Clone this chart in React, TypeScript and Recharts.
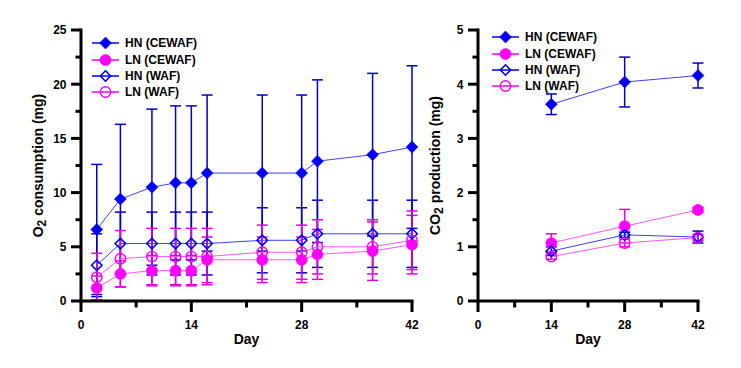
import { LineChart, Line, XAxis, YAxis, ErrorBar, Legend, Label } from 'recharts';

const FONT = '"Liberation Sans", Arial, sans-serif';
const BLUE = '#0000ff';
const MAGENTA = '#ff00ff';

// O2 consumption (left panel)
const o2Days = [2, 5, 9, 12, 14, 16, 23, 28, 30, 37, 42];
const o2HnCewaf = [6.6, 9.4, 10.5, 10.9, 10.9, 11.8, 11.8, 11.8, 12.9, 13.5, 14.2];
const o2HnCewafSd = [6.0, 6.9, 7.2, 7.1, 7.1, 7.2, 7.2, 7.2, 7.5, 7.5, 7.5];
const o2LnCewaf = [1.2, 2.5, 2.8, 2.8, 2.8, 3.8, 3.8, 3.8, 4.3, 4.6, 5.2];
const o2LnCewafSd = [1.1, 1.2, 1.4, 1.4, 1.4, 2.1, 2.1, 2.1, 2.3, 2.7, 2.7];
const o2HnWaf = [3.3, 5.3, 5.3, 5.3, 5.3, 5.3, 5.6, 5.6, 6.2, 6.2, 6.2];
const o2HnWafSd = [2.9, 2.9, 2.9, 2.9, 2.9, 2.9, 3.0, 3.0, 3.1, 3.1, 3.1];
const o2LnWaf = [2.2, 3.9, 4.1, 4.1, 4.1, 4.1, 4.5, 4.5, 5.0, 5.0, 5.6];
const o2LnWafSd = [2.2, 2.6, 2.6, 2.6, 2.6, 2.6, 2.5, 2.5, 2.5, 2.5, 2.7];

// CO2 production (right panel)
const co2Days = [14, 28, 42];
const co2HnCewaf = [3.63, 4.04, 4.16];
const co2HnCewafSd = [0.19, 0.46, 0.23];
const co2LnCewaf = [1.07, 1.38, 1.68];
const co2LnCewafSd = [0.17, 0.31, 0.05];
const co2HnWaf = [0.92, 1.22, 1.18];
const co2HnWafSd = [0.08, 0.05, 0.11];
const co2LnWaf = [0.82, 1.07, 1.17];
const co2LnWafSd = [0.05, 0.07, 0.06];

const dayTicks = [0, 7, 14, 21, 28, 35, 42];
const o2Ticks = [0, 2.5, 5, 7.5, 10, 12.5, 15, 17.5, 20, 22.5, 25];
const co2Ticks = [0, 0.5, 1, 1.5, 2, 2.5, 3, 3.5, 4, 4.5, 5];

const seriesNames = ['HN (CEWAF)', 'LN (CEWAF)', 'HN (WAF)', 'LN (WAF)'];
const seriesKeys = ['hnCewaf', 'lnCewaf', 'hnWaf', 'lnWaf'];
const seriesLook: Record<string, { color: string; line: string; bar: string; shape: string; filled: boolean }> = {
  hnCewaf: { color: BLUE, line: '#4040ff', bar: '#0000c0', shape: 'diamond', filled: true },
  lnCewaf: { color: MAGENTA, line: '#ff55ff', bar: '#e000e0', shape: 'circle', filled: true },
  hnWaf: { color: BLUE, line: '#4040ff', bar: '#0000c0', shape: 'diamond', filled: false },
  lnWaf: { color: MAGENTA, line: '#ff55ff', bar: '#e000e0', shape: 'circle', filled: false },
};

const o2Data = o2Days.map((day, i) => ({
  day,
  hnCewaf: o2HnCewaf[i], hnCewafSd: o2HnCewafSd[i],
  lnCewaf: o2LnCewaf[i], lnCewafSd: o2LnCewafSd[i],
  hnWaf: o2HnWaf[i], hnWafSd: o2HnWafSd[i],
  lnWaf: o2LnWaf[i], lnWafSd: o2LnWafSd[i],
}));

const co2Data = co2Days.map((day, i) => ({
  day,
  hnCewaf: co2HnCewaf[i], hnCewafSd: co2HnCewafSd[i],
  lnCewaf: co2LnCewaf[i], lnCewafSd: co2LnCewafSd[i],
  hnWaf: co2HnWaf[i], hnWafSd: co2HnWafSd[i],
  lnWaf: co2LnWaf[i], lnWafSd: co2LnWafSd[i],
}));

function Marker({ cx, cy, shape, filled, color }: any) {
  if (cx == null || cy == null) return null;
  if (shape === 'diamond') {
    const r = filled ? 6 : 5.2;
    return (
      <path
        d={`M${cx},${cy - r}L${cx + r},${cy}L${cx},${cy + r}L${cx - r},${cy}Z`}
        fill={filled ? color : 'none'}
        stroke={color}
        strokeWidth={filled ? 0.5 : 1.6}
      />
    );
  }
  return (
    <circle cx={cx} cy={cy} r={filled ? 5.6 : 5.2} fill={filled ? color : 'none'} stroke={color} strokeWidth={filled ? 0.5 : 1.4} />
  );
}

const makeDot = (key: string) => (p: any) => {
  const s = seriesLook[key];
  return <Marker key={`${key}-${p.index}`} cx={p.cx} cy={p.cy} shape={s.shape} filled={s.filled} color={s.color} />;
};

function XTick({ x, y, payload }: any) {
  const v = payload.value;
  const major = v % 14 === 0;
  return (
    <g>
      <line x1={x} x2={x} y1={y} y2={y + (major ? 11 : 6.5)} stroke="#000" strokeWidth={3} />
      {major && (
        <text x={x} y={y + 28} textAnchor="middle" fontFamily={FONT} fontWeight="bold" fontSize={12} fill="#000">
          {v}
        </text>
      )}
    </g>
  );
}

const makeYTick = (step: number) => ({ x, y, payload }: any) => {
  const v = payload.value;
  const major = Math.abs(v / step - Math.round(v / step)) < 1e-6;
  return (
    <g>
      <line x1={x} x2={x - (major ? 10 : 5.5)} y1={y} y2={y} stroke="#000" strokeWidth={3} />
      {major && (
        <text x={x - 14.5} y={y + 4.3} textAnchor="end" fontFamily={FONT} fontWeight="bold" fontSize={12} fill="#000">
          {v}
        </text>
      )}
    </g>
  );
};

const makeYTitle = (head: string, tail: string, fallbackX: number) => (props: any) => {
  const vb = props.viewBox || {};
  const bx = vb.width != null ? vb.x + vb.width - 38 : fallbackX;
  const cy = vb.height != null ? vb.y + vb.height / 2 : 165;
  return (
    <text
      x={bx}
      y={cy}
      transform={`rotate(-90, ${bx}, ${cy})`}
      textAnchor="middle"
      fontFamily={FONT}
      fontWeight="bold"
      fontSize={14}
      fill="#000"
    >
      {head}
      <tspan dy={3} fontSize={12}>2</tspan>
      <tspan dy={-3}>{tail}</tspan>
    </text>
  );
};

const dayTitle = (props: any) => {
  const vb = props.viewBox || {};
  const cx = vb.width != null ? vb.x + vb.width / 2 : 246;
  const y = vb.y != null ? vb.y + 43 : 344;
  return (
    <text x={cx} y={y} textAnchor="middle" fontFamily={FONT} fontWeight="bold" fontSize={14} fill="#000">
      Day
    </text>
  );
};

function LegendBox() {
  return (
    <div style={{ fontFamily: FONT, fontWeight: 'bold', fontSize: 12, color: '#000' }}>
      {seriesKeys.map((k, i) => {
        const s = seriesLook[k];
        return (
          <div key={k} style={{ display: 'flex', alignItems: 'center', height: 16.4 }}>
            <svg width={27} height={16} style={{ overflow: 'visible' }}>
              <line x1={0} x2={27} y1={8} y2={8} stroke={s.color} strokeWidth={1.5} />
              <Marker cx={13.5} cy={8} shape={s.shape} filled={s.filled} color={s.color} />
            </svg>
            <span style={{ marginLeft: 6, whiteSpace: 'nowrap' }}>{seriesNames[i]}</span>
          </div>
        );
      })}
    </div>
  );
}

const axisLineStyle = { stroke: '#000', strokeWidth: 3, strokeLinecap: 'square' as const };

function Panel({ data, yTicks, yMax, yStep, width, left, yAxisWidth, marginRight, legendPos, title }: any) {
  return (
    <div style={{ position: 'absolute', left, top: 0 }}>
      <LineChart width={width} height={368} data={data} margin={{ top: 30, right: marginRight, bottom: 0, left: 0 }}>
        <XAxis
          type="number"
          dataKey="day"
          domain={[0, 42]}
          ticks={dayTicks}
          interval={0}
          tickSize={0}
          tickMargin={0}
          tickLine={false}
          tick={XTick}
          axisLine={axisLineStyle}
          height={67}
        >
          <Label content={dayTitle} />
        </XAxis>
        <YAxis
          type="number"
          domain={[0, yMax]}
          ticks={yTicks}
          interval={0}
          tickSize={0}
          tickMargin={0}
          tickLine={false}
          tick={makeYTick(yStep)}
          axisLine={axisLineStyle}
          width={yAxisWidth}
        >
          <Label content={title} />
        </YAxis>
        <Legend
          layout="vertical"
          align="center"
          verticalAlign="middle"
          content={<LegendBox />}
          wrapperStyle={{ top: legendPos.top, left: legendPos.left, width: 'auto' }}
        />
        {seriesKeys.map((k) => {
          const s = seriesLook[k];
          return (
            <Line
              key={k}
              type="linear"
              dataKey={k}
              name={k}
              stroke={s.line}
              strokeWidth={1}
              dot={makeDot(k)}
              activeDot={false}
              isAnimationActive={false}
            >
              <ErrorBar dataKey={`${k}Sd`} width={5.5} stroke={s.bar} strokeWidth={1.5} direction="y" isAnimationActive={false} />
            </Line>
          );
        })}
      </LineChart>
    </div>
  );
}

export default function App() {
  return (
    <div style={{ position: 'absolute', left: 0, top: 0, width: 741, height: 368, background: '#fff' }}>
      <Panel
        data={o2Data}
        yTicks={o2Ticks}
        yMax={25}
        yStep={5}
        width={430}
        left={0}
        yAxisWidth={81}
        marginRight={18}
        legendPos={{ top: 35, left: 92 }}
        title={makeYTitle('O', ' consumption (mg)', 43)}
      />
      <Panel
        data={co2Data}
        yTicks={co2Ticks}
        yMax={5}
        yStep={1}
        width={300}
        left={420}
        yAxisWidth={58}
        marginRight={22}
        legendPos={{ top: 29, left: 72 }}
        title={makeYTitle('CO', ' production (mg)', 20)}
      />
    </div>
  );
}
